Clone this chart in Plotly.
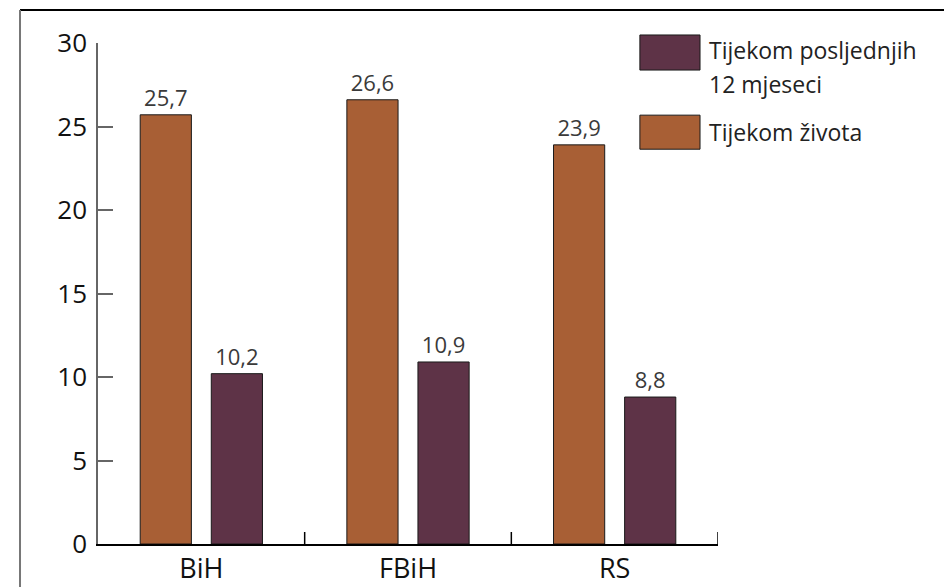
import plotly.graph_objects as go

categories = ["BiH", "FBiH", "RS"]
life_name = "Tijekom života"
year_name_lines = ["Tijekom posljednjih", "12 mjeseci"]
life_values = [25.7, 26.6, 23.9]
year_values = [10.2, 10.9, 8.8]
y_ticks = [0, 5, 10, 15, 20, 25, 30]

ORANGE = "#A85F35"
PURPLE = "#5E3347"
FONT = "Open Sans, Noto Sans, sans-serif"

fig = go.Figure()
fig.add_trace(go.Bar(
    x=categories, y=life_values, name=life_name,
    marker=dict(color=ORANGE, line=dict(color="#1a1a1a", width=1)),
    text=life_values, texttemplate="%{y:.1f}", textposition="outside",
    textfont=dict(size=22, color="#3a3a3a", family=FONT),
    cliponaxis=False, showlegend=False,
))
fig.add_trace(go.Bar(
    x=categories, y=year_values, name=" ".join(year_name_lines),
    marker=dict(color=PURPLE, line=dict(color="#1a1a1a", width=1)),
    text=year_values, texttemplate="%{y:.1f}", textposition="outside",
    textfont=dict(size=22, color="#3a3a3a", family=FONT),
    cliponaxis=False, showlegend=False,
))

# manual legend (swatches + labels)
shapes = [
    dict(type="rect", xref="paper", yref="paper", x0=0.874, x1=0.971, y0=0.946, y1=1.016,
         fillcolor=PURPLE, line=dict(color="#1a1a1a", width=1)),
    dict(type="rect", xref="paper", yref="paper", x0=0.874, x1=0.971, y0=0.788, y1=0.856,
         fillcolor=ORANGE, line=dict(color="#1a1a1a", width=1)),
]
legend_text = [(year_name_lines[0], 0.986), (year_name_lines[1], 0.918), (life_name, 0.822)]
annotations = [dict(xref="paper", yref="paper", x=0.982, y=yy, yanchor="middle",
                    xanchor="left", align="left", showarrow=False, text=t,
                    font=dict(size=23, color="#222222", family=FONT))
               for t, yy in legend_text]

# outer frame lines
shapes.append(dict(type="line", xref="paper", yref="paper", x0=-0.1258, x1=1.37,
                   y0=1.0659, y1=1.0659, line=dict(color="#000000", width=2)))
shapes.append(dict(type="line", xref="paper", yref="paper", x0=-0.1258, x1=-0.1258,
                   y0=1.0659, y1=-0.09, line=dict(color="#777777", width=2)))
# category separator ticks on x axis
for xv in [0.5, 1.5, 2.5]:
    shapes.append(dict(type="line", xref="x", yref="paper", x0=xv, x1=xv,
                       y0=0, y1=0.024, line=dict(color="#000000", width=1.5)))

fig.update_layout(
    width=944, height=587,
    margin=dict(l=98, r=226, t=43, b=43),
    paper_bgcolor="white", plot_bgcolor="white",
    barmode="group", bargap=0.312, bargroupgap=0.28,
    separators=",.",
    font=dict(family=FONT, color="#111111"),
    showlegend=False,
    shapes=shapes, annotations=annotations,
    xaxis=dict(range=[-0.5, 2.5], showline=True, linecolor="#000000", linewidth=1.5,
               ticks="", showgrid=False, automargin=False,
               tickfont=dict(size=27, color="#111111")),
    yaxis=dict(range=[0, 30], tickvals=y_ticks, showline=True, linecolor="#666666",
               linewidth=1.5, ticks="inside", ticklen=15, tickcolor="#666666",
               tickwidth=1.5, showgrid=False, zeroline=False, automargin=False,
               tickfont=dict(size=26, color="#111111"), ticklabelstandoff=4),
)

fig.write_html("out.html", config={"displayModeBar": False},
               post_script="document.body.style.margin='0px';document.body.style.overflow='hidden';")
